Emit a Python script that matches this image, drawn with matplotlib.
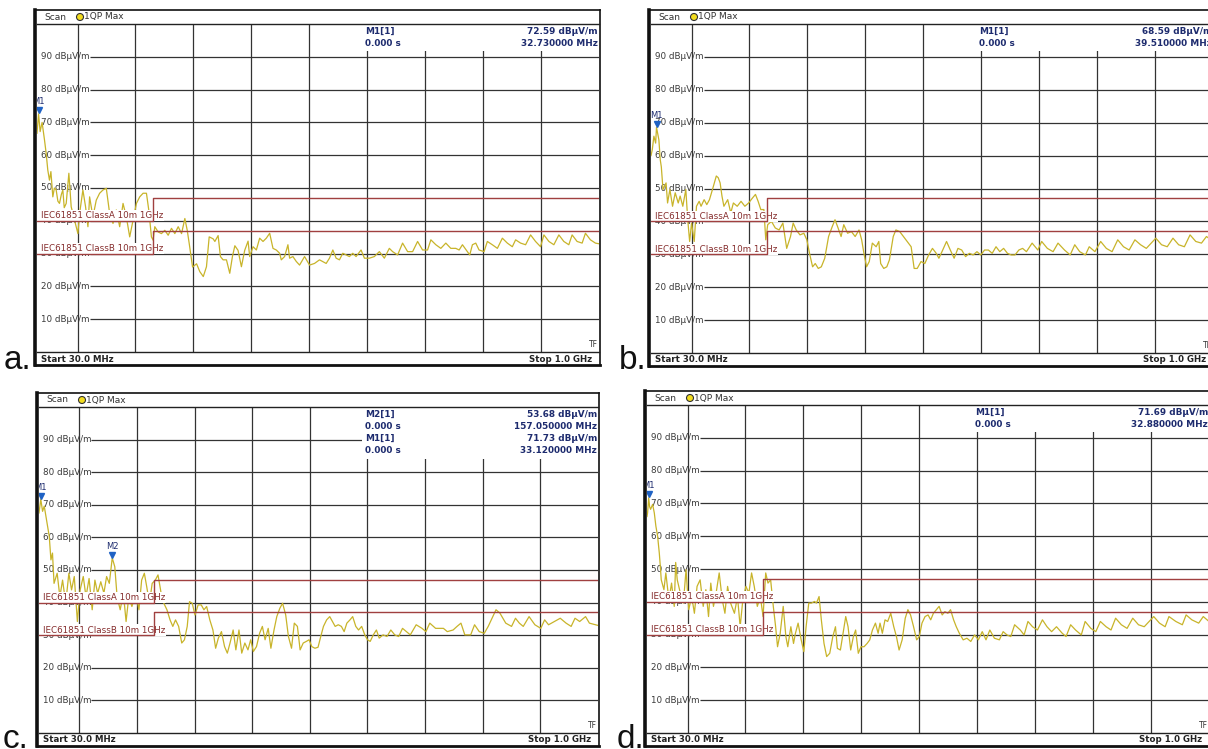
import matplotlib
matplotlib.use("Agg")
import matplotlib.pyplot as plt
from matplotlib.patches import Rectangle, Ellipse
from matplotlib.transforms import blended_transform_factory, offset_copy

W, H = 1208, 749

# y grid levels (dBuV/m) and x grid (MHz)
levels_db = [10, 20, 30, 40, 50, 60, 70, 80, 90]
grid_mhz = [100, 200, 300, 400, 500, 600, 700, 800, 900]

# limit lines
limit_mhz = [30, 230, 230, 1000]
class_a_db = [40, 40, 47, 47]
class_b_db = [30, 30, 37, 37]
class_a_name = "IEC61851 ClassA 10m 1GHz"
class_b_name = "IEC61851 ClassB 10m 1GHz"

# traces: (MHz, dBuV/m)
trace_a = [(30, 66.7), (32.7, 72.6), (35.4, 67.2), (38.8, 70), (42.9, 64.7), (45.8, 60.6), (48.6, 55.5),
           (51.5, 52.4), (54, 55), (57.3, 47.3), (60, 50), (63.1, 49.4), (66, 46), (68.8, 45.3), (72, 48),
           (74.6, 49.4), (77, 44), (80.4, 45.3), (85, 54.5), (89, 44.3), (94.8, 40.2), (100.6, 36.1),
           (103.5, 42.2), (109.2, 49.4), (113.8, 44.3), (117.9, 38.2), (120.8, 47.3), (126.5, 41.2),
           (132.3, 46.3), (138.1, 48.4), (143.9, 49.4), (149.6, 49.9), (155.4, 42.2), (161.2, 39.2),
           (166.9, 43.3), (172.7, 38.2), (178.5, 45.3), (184.2, 41.2), (190, 35.1), (195.8, 40.2),
           (201.6, 45.3), (207.3, 47.3), (213.1, 48.4), (218.9, 48.4), (222.9, 43.3), (227.5, 35.1),
           (230.4, 34.1), (233.3, 38.2), (239.1, 36.6), (244.8, 36.1), (250.6, 37.1), (256.4, 35.6),
           (262.1, 37.7), (267.9, 36.1), (273.7, 38.2), (279.5, 36.1), (285.2, 40.7), (289.3, 37.1),
           (292.7, 33.1), (298.5, 25.9), (305.4, 26.9), (311, 24.5), (317, 23), (322.5, 26), (327.2, 35.1),
           (334, 34.5), (337, 33.7), (342.6, 35.5), (346.6, 29.1), (351.2, 28.1), (357, 28.1), (362.7, 24),
           (367.3, 29.1), (371.5, 32.4), (377, 31), (382.8, 26), (388.5, 31), (394.3, 33.8), (397.1, 29.1),
           (402.9, 32.1), (408.6, 31.1), (414.3, 34.7), (420.1, 33.7), (425.8, 34.7), (431.6, 36.2),
           (437.3, 31.6), (443, 31.1), (448.8, 30.1), (451.6, 28.1), (457.4, 29.1), (463.1, 32.7),
           (466, 28.6), (471.7, 29.1), (477.5, 27.6), (483.2, 26.5), (491.8, 29.1), (500.4, 26.5),
           (509, 27), (517.6, 28.1), (529.1, 27), (534.8, 28.6), (540.6, 31.1), (546.3, 28.6), (552, 28.1),
           (557.8, 30.1), (563.5, 29.6), (569.2, 29.1), (575, 30.1), (580.7, 29.1), (589.3, 31.1),
           (595.1, 28.6), (603.7, 28.6), (612.3, 29.1), (620.9, 30.6), (629.5, 28.6), (638.1, 31.6),
           (643.8, 30.6), (652.4, 29.6), (661, 33.2), (669.7, 30.6), (678.3, 30.6), (686.9, 33.7),
           (695.5, 31.1), (704.1, 31.1), (709.8, 34.2), (718.4, 32.7), (727, 31.6), (735.6, 33.2),
           (744.2, 31.6), (752.8, 31.6), (758.6, 31.1), (764.3, 32.7), (772.9, 30.6), (776.9, 29.6),
           (781.5, 32.7), (787.3, 33.2), (793, 31.1), (801.6, 30.6), (807.3, 33.7), (815.9, 32.7),
           (824.6, 31.6), (833.2, 34.7), (841.8, 33.2), (850.4, 32.1), (856.1, 34.2), (864.7, 33.2),
           (873.3, 32.7), (881.9, 35.7), (890.5, 33.7), (899.1, 32.1), (904.9, 35.7), (913.5, 33.7),
           (922.1, 32.7), (930.7, 35.7), (939.3, 33.7), (947.9, 32.7), (953.6, 35.7), (962.2, 33.7),
           (970.9, 33.2), (976.6, 36.2), (985.2, 34.2), (993.8, 33.2), (1000, 33)]

trace_b = [(30, 60), (32.2, 61.8), (35, 65.9), (38, 63.8), (39.5, 68.6), (43.6, 64.8), (46, 58.7),
           (47.8, 56.6), (50.7, 49.7), (56, 51.7), (58.6, 45.6), (62.6, 49.7), (67.2, 44.6), (71.8, 48.7),
           (77, 45.6), (80.3, 47.7), (84.9, 44.6), (90.1, 49.7), (93.4, 40.5), (96.7, 33.9), (100, 39.5),
           (104.6, 33.9), (108.5, 44.6), (113.1, 46.1), (116.4, 44.6), (121.7, 46.6), (126.3, 45.1),
           (130.9, 46.6), (136.1, 49.7), (142.7, 53.8), (146, 53.3), (149.3, 51.7), (152.5, 47.7),
           (155.8, 44.6), (162.4, 46.6), (167.7, 42.6), (172.2, 45.6), (178.8, 44.6), (185.4, 46.1),
           (192, 44.6), (198.5, 45.6), (205.1, 47.1), (210.3, 48.2), (214.9, 46.1), (219.5, 43.6),
           (224.8, 43.6), (228.1, 34.4), (231.4, 39), (237.9, 40), (244.5, 38), (251.1, 37.4), (257.6, 39.5),
           (264.2, 31.8), (270.8, 35.4), (275.4, 39.5), (280.6, 37.4), (287.2, 35.9), (293.8, 36.4),
           (299, 34.4), (303.6, 30.3), (308.9, 26.2), (313.5, 27.2), (318.7, 25.7), (324, 26.2),
           (329.9, 28.8), (336.5, 35.4), (343, 38.5), (347.6, 40.5), (352.9, 38), (358.1, 35.4),
           (362.7, 39), (369.3, 36.4), (375.9, 36.9), (382.4, 35.4), (389, 37.4), (393.6, 34.4),
           (397.5, 30.3), (402.1, 26.2), (406.7, 27.8), (412, 33.4), (418.6, 32.3), (423.2, 33.9),
           (426.4, 27.2), (431.7, 25.7), (437, 26.2), (441.5, 28.3), (448.1, 35.4), (452.7, 37.4),
           (459.3, 36.9), (465.8, 35.4), (472.4, 33.9), (479, 32.3), (484.2, 25.7), (489.5, 25.7),
           (496.1, 27.8), (502.6, 27.2), (509.2, 29.8), (515.8, 31.8), (522.3, 30.3), (526.9, 28.8),
           (533.5, 31.3), (540.1, 33.9), (546.6, 31.3), (553.2, 28.8), (559.8, 31.8), (566.3, 31.3),
           (572.9, 29.3), (579.5, 30.3), (586, 29.8), (592.6, 30.8), (599.2, 29.8), (605.7, 31.3),
           (612.3, 31.3), (618.9, 30.3), (625.5, 32.3), (632, 30.8), (638.6, 31.8), (645.2, 30.3),
           (651.7, 29.8), (658.3, 29.8), (664.9, 31.3), (671.4, 31.8), (678, 30.8), (687.8, 33.4),
           (697.7, 31.3), (704.3, 33.9), (714.1, 31.8), (724, 30.8), (732.5, 33.4), (743.7, 31.3),
           (753.5, 29.8), (761.4, 32.9), (769.9, 30.8), (779.8, 29.8), (786.4, 32.3), (796.2, 30.8),
           (806.1, 33.9), (815.9, 31.8), (825.8, 30.8), (835.6, 34.4), (845.5, 32.3), (855.3, 31.3),
           (865.2, 34.4), (875, 32.9), (884.9, 31.8), (901.3, 34.9), (911.2, 32.9), (921, 32.3),
           (930.9, 34.9), (940.7, 32.9), (950.6, 32.3), (960.4, 35.9), (970.3, 33.9), (980.1, 33.4),
           (988.7, 35.4), (1000, 34)]

trace_c = [(30, 67.5), (33.1, 71.7), (36.2, 68), (39.1, 69.6), (42, 66.5), (44.9, 63.4), (47.8, 60.3),
           (50.7, 53.1), (53.4, 55.2), (56.1, 45.9), (61.5, 49), (66.2, 41.8), (70.9, 46.9), (76.4, 39.8),
           (81.8, 49), (86.5, 43.9), (91.2, 48), (96.6, 34.2), (101.4, 43.9), (106.8, 48), (111.5, 41.8),
           (116.9, 47.4), (122.3, 37.8), (127, 46.9), (131.8, 42.9), (137.2, 46.4), (142.6, 42.9),
           (147.3, 48), (152, 45.9), (157.1, 53.7), (161.5, 51), (165.5, 41.8), (170.9, 37.8), (176.4, 42.9),
           (181.1, 34.2), (185.8, 41.8), (191.2, 38.8), (198, 42.9), (203.4, 37.8), (208.1, 46.9),
           (212.8, 49), (216.9, 44.9), (221.6, 39.8), (226.4, 45.9), (231.8, 46.9), (236.5, 48.5),
           (241.9, 42.9), (246.6, 39.8), (252, 37.8), (257.4, 34.7), (262.2, 32.7), (266.9, 34.7),
           (272.3, 32.7), (277.7, 27.6), (282.4, 28.6), (287.2, 32.7), (291.2, 40.3), (295.9, 39.8),
           (300.7, 36.2), (306.1, 39.3), (311.5, 39.3), (316.2, 37.8), (320.9, 38.8), (326.4, 34.7),
           (331.8, 31.6), (336.5, 26), (341.2, 29.1), (346.6, 31.1), (352, 26.5), (356.8, 24.5),
           (361.5, 27.6), (366.9, 31.6), (371.6, 25.5), (377, 31.6), (381.8, 24.5), (387.2, 27.6),
           (392.6, 25.5), (397.3, 28.6), (402, 25), (407.4, 26.5), (412.8, 30.6), (417.6, 32.7),
           (422.3, 28.6), (427.7, 32.1), (432.4, 26), (437.8, 31.6), (442.6, 35.7), (448, 38.3),
           (452.7, 39.8), (458.1, 36.2), (462.8, 29.6), (468.2, 26), (473, 33.7), (478.4, 32.7),
           (483.1, 25.5), (488.5, 27.6), (493.9, 28.1), (498.6, 28.6), (503.4, 26.5), (508.8, 26),
           (514.2, 26.3), (518.9, 29.6), (523.6, 32.7), (529.1, 34.7), (534.5, 35.7), (539.2, 34.2),
           (543.9, 32.7), (549.3, 33.2), (554.7, 32.7), (559.5, 31.1), (564.2, 33.7), (569.6, 34.7),
           (574.3, 35.7), (579.7, 32.7), (584.5, 31.6), (589.9, 32.7), (595.3, 30.1), (600, 28.6),
           (604.7, 28.1), (610.1, 30.1), (615.5, 31.6), (620.3, 29.1), (627, 30.1), (633.8, 29.6),
           (640.5, 31.6), (647.3, 30.1), (654.1, 29.6), (660.8, 32.1), (667.6, 31.1), (674.3, 30.1),
           (684.5, 33.2), (694.6, 32.1), (701.4, 31.1), (708.1, 33.7), (718.2, 32.1), (731.8, 32.1),
           (738.5, 31.1), (748.6, 31.6), (755.4, 32.7), (762.2, 33.7), (768.9, 30.1), (779.1, 30.1),
           (785.8, 33.2), (793.9, 31.1), (802.7, 30.6), (809.5, 32.7), (816.2, 35.2), (823, 37.8),
           (829.7, 36.8), (839.9, 33.7), (850, 32.7), (856.8, 35.2), (863.5, 33.7), (870.3, 32.7),
           (880.4, 35.7), (890.5, 33.2), (900.7, 32.1), (907.4, 34.7), (914.2, 33.2), (924.3, 34.2),
           (934.5, 35.2), (944.6, 33.7), (953.4, 32.7), (960.1, 35.2), (968.2, 34.2), (978.4, 35.7),
           (985.1, 33.7), (995.3, 33.2), (1000, 33)]

trace_d = [(30, 66), (31, 67.1), (32.9, 71.7), (34.5, 69), (36.2, 68.2), (39.7, 69.7), (42.6, 67.1),
           (45.3, 63.1), (48.3, 60), (51.2, 54.9), (53, 50.8), (54.6, 46.7), (59.2, 43.7), (62.5, 48.8),
           (67.8, 40.6), (72.4, 45.7), (77, 38.6), (79.5, 52), (82.2, 46.7), (87.5, 42.7), (92.8, 39.6),
           (97.4, 49.8), (102, 37.6), (107.2, 41.6), (111.8, 36.5), (116.4, 44.7), (121.7, 46.7),
           (127, 38.6), (131.6, 43.7), (136.2, 35.5), (140.1, 45.7), (144.7, 38.6), (149.3, 42.7),
           (154.6, 48.8), (159.9, 40.6), (164.5, 36.5), (169.1, 44.7), (174.3, 39.6), (180.9, 36.5),
           (186.2, 41.6), (190.8, 32.4), (195.4, 40.6), (200.7, 44.7), (205.9, 42.7), (210.5, 48.8),
           (215.1, 44.7), (220.4, 38.6), (225.7, 41.6), (230.3, 35.5), (234.9, 48.8), (238.8, 45.7),
           (243.4, 46.7), (248, 38.6), (252, 32.4), (255.3, 26.3), (259.9, 30.4), (265.1, 38.6),
           (269.7, 29.4), (273, 26.3), (278.3, 32.4), (282.9, 27.3), (286.2, 30.4), (290.8, 33.5),
           (296.1, 28.4), (300.7, 24.8), (304.6, 32.4), (309.2, 39.6), (313.8, 39.6), (319.1, 40.1),
           (322.4, 39.6), (327, 41.6), (330.9, 34.5), (335.5, 27.3), (340.1, 23.3), (345.4, 24.3),
           (350.7, 29.4), (355.3, 32.4), (358.6, 25.8), (363.8, 25.3), (368.4, 30.4), (373, 35.5),
           (377, 32.4), (381.6, 25.3), (386.2, 29.4), (390.1, 31.4), (394.7, 24.3), (399.3, 26.3),
           (404.6, 26.3), (409.9, 27.3), (414.5, 28.4), (419.1, 31.4), (424.3, 33.5), (428.9, 30.4),
           (432.2, 33.5), (436.2, 30.4), (440.8, 34.5), (445.4, 34), (450.7, 36.5), (455.9, 32.4),
           (460.5, 29.4), (465.1, 25.3), (470.4, 28.4), (475.7, 35), (480.3, 37.6), (484.9, 36),
           (490.1, 32.4), (495.4, 28.4), (500, 29.4), (504.6, 33.5), (509.9, 35.5), (515.1, 36),
           (519.7, 34.5), (524.3, 36.5), (529.6, 37.6), (534.2, 38.6), (539.5, 36), (544.1, 37),
           (549.3, 36.5), (553.9, 37.6), (559.2, 34.5), (563.8, 32.4), (569.1, 30.4), (575.7, 28.4),
           (582.2, 28.9), (588.8, 27.9), (595.4, 29.9), (602, 28.4), (608.6, 30.9), (615.1, 28.4),
           (621.7, 31.4), (629.6, 28.9), (638.2, 28.4), (644.7, 30.9), (651.3, 29.9), (657.9, 29.4),
           (664.5, 33), (674.3, 31.4), (680.9, 29.9), (687.5, 34), (695.4, 32.4), (703.9, 31.4),
           (712.5, 34.5), (720.4, 32.4), (728.3, 30.9), (736.8, 32.4), (746.7, 30.4), (753.3, 29.4),
           (761.2, 33), (769.7, 31.4), (779.6, 29.9), (786.2, 34), (796.1, 31.9), (804.6, 30.9),
           (812.5, 34), (822.4, 32.4), (830.9, 31.4), (838.8, 35), (848.7, 33), (858.6, 31.9),
           (868.4, 35), (878.3, 33), (888.2, 32.4), (904.6, 35.5), (914.5, 33.5), (924.3, 32.4),
           (930.9, 35.5), (942.8, 34), (954, 33), (960.5, 36), (970.4, 34.5), (982.2, 33.5),
           (990.1, 35.5), (1000, 34)]

# markers: name, MHz, dBuV/m
markers_a = [("M1", 32.73, 72.59)]
markers_b = [("M1", 39.51, 68.59)]
markers_c = [("M2", 157.05, 53.68), ("M1", 33.12, 71.73)]
markers_d = [("M1", 32.88, 71.69)]

# plot area in pixels: left, top(100 dB), right, bottom(0 dB)
panels = [
    ("a.", (37, 24, 599, 352), (4, 369), trace_a, markers_a),
    ("b.", (651, 24, 1213, 353), (619, 369), trace_b, markers_b),
    ("c.", (39, 407, 598, 733), (3, 748), trace_c, markers_c),
    ("d.", (647, 405, 1209, 733), (617, 748), trace_d, markers_d),
]

GRID = "#333333"
TRACE = "#c8b42a"
LIMIT = "#a04040"
LIMIT_TXT = "#852c2c"
NAVY = "#1d2b6e"
MARK = "#1f62c4"

fig = plt.figure(figsize=(W / 100, H / 100), dpi=100)
fig.patch.set_facecolor("white")


def px_box(x0, y0, x1, y1):
    return [x0 / W, 1 - y1 / H, (x1 - x0) / W, (y1 - y0) / H]


def draw_panel(tag, geom, tag_pos, trace, markers):
    x0, yt, x1, yb = geom

    frame = fig.add_axes(px_box(x0 - 2, yt - 14, x1 + 1, yb + 13))
    frame.set_xticks([])
    frame.set_yticks([])
    for s in frame.spines.values():
        s.set_color("#111111")
        s.set_linewidth(1.2)
    frame.spines["left"].set_linewidth(2.6)
    frame.spines["bottom"].set_linewidth(2.0)

    ax = fig.add_axes(px_box(x0, yt, x1, yb))
    ax.patch.set_alpha(0)
    ax.set_xlim(30, 1000)
    ax.set_ylim(0, 100)
    ax.set_xticks([])
    ax.set_yticks([])
    for side in ("left", "right"):
        ax.spines[side].set_visible(False)
    for side in ("top", "bottom"):
        ax.spines[side].set_color("#222222")
        ax.spines[side].set_linewidth(1.0)
        ax.spines[side].set_zorder(9)

    # grid
    ax.vlines(grid_mhz, 0, 100, color=GRID, lw=0.9, zorder=1)
    ax.hlines(levels_db, 121, 1000, color=GRID, lw=0.9, zorder=1)
    for lv in levels_db:
        ax.text(37, lv, f"{lv} dBµV/m", fontsize=6.3, color="#3a3a3a",
                ha="left", va="center", zorder=2)

    # trace
    f = [p[0] for p in trace]
    v = [p[1] for p in trace]
    ax.plot(f, v, color=TRACE, lw=0.9, zorder=3)

    # limit lines with labels
    for name, lim in ((class_a_name, class_a_db), (class_b_name, class_b_db)):
        ax.text(37, lim[0] + 0.2, name, fontsize=6.3, color=LIMIT_TXT, ha="left", va="bottom",
                zorder=4, bbox=dict(boxstyle="square,pad=0.12", fc="white", ec="none"))
        ax.plot(limit_mhz, lim, color=LIMIT, lw=1.0, zorder=5)

    # markers
    tri = offset_copy(ax.transData, fig=fig, y=3.5, units="dots")
    lab = offset_copy(ax.transData, fig=fig, y=7.5, units="dots")
    for name, mf, mv in markers:
        ax.plot([mf], [mv], marker="v", ms=4.6, color=MARK, ls="none", transform=tri, zorder=6)
        ax.text(mf, mv, name, transform=lab, fontsize=6, color=NAVY, ha="center",
                va="bottom", zorder=6, clip_on=True)

    # marker readout box
    bt = blended_transform_factory(ax.transAxes, ax.transData)
    rows = []
    for name, mf, mv in markers:
        rows.append((f"{name}[1]", f"{mv:.2f} dBµV/m"))
        rows.append(("0.000 s", f"{mf:.6f} MHz"))
    top_row = 97.8
    step = 3.75
    bottom = top_row - step * (len(rows) - 1) - 2.4
    ax.add_patch(Rectangle((0.578, bottom), 0.422, 99.6 - bottom, transform=bt,
                           fc="white", ec="none", zorder=7, clip_on=False))
    for i, (left, right) in enumerate(rows):
        y = top_row - step * i
        ax.text(0.584, y, left, transform=bt, fontsize=6.4, fontweight="bold",
                color=NAVY, ha="left", va="center", zorder=8)
        ax.text(0.998, y, right, transform=bt, fontsize=6.4, fontweight="bold",
                color=NAVY, ha="right", va="center", zorder=8)

    ax.text(0.998, 1.0, "TF", transform=bt, fontsize=5.5, color="#333333",
            ha="right", va="bottom", zorder=8)

    # header and footer
    hy = 1 - (yt - 7) / H
    fig.text((x0 + 7) / W, hy, "Scan", fontsize=6.5, color="#333333", va="center")
    fig.add_artist(Ellipse(((x0 + 43) / W, hy), 7 / W, 7 / H, transform=fig.transFigure,
                           fc="#f2dc1e", ec="#333333", lw=0.8))
    fig.text((x0 + 47) / W, hy, "1QP Max", fontsize=6.5, color="#333333", va="center")
    fy = 1 - (yb + 7) / H
    fig.text((x0 + 4) / W, fy, "Start 30.0 MHz", fontsize=6.2, fontweight="bold",
             color="#222222", va="center")
    fig.text((x1 - 7) / W, fy, "Stop 1.0 GHz", fontsize=6.2, fontweight="bold",
             color="#222222", va="center", ha="right")

    fig.text(tag_pos[0] / W, 1 - tag_pos[1] / H, tag, fontsize=24,
             family="Liberation Sans", color="#111111", va="baseline")


for tag, geom, tag_pos, trace, markers in panels:
    draw_panel(tag, geom, tag_pos, trace, markers)

fig.savefig("out.png", dpi=100, facecolor="white")
